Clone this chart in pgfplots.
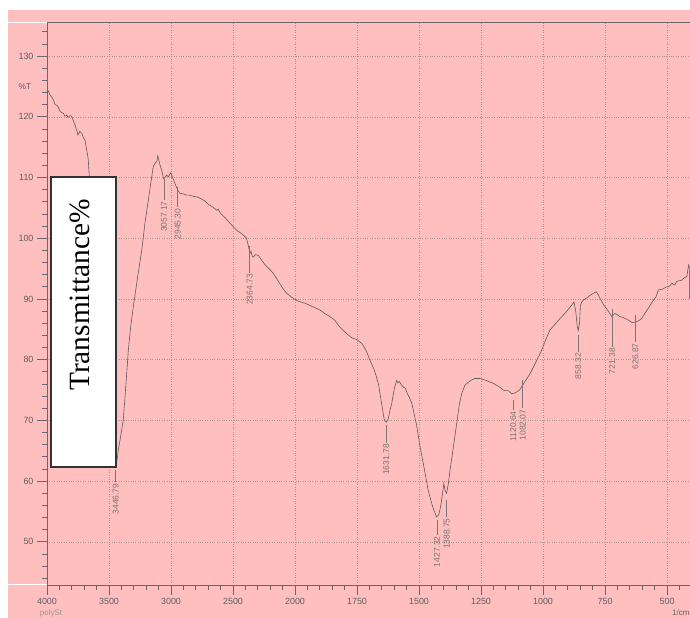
\documentclass[border=0pt]{standalone}
\usepackage{pgfplots}
\pgfplotsset{compat=1.18}
\usepackage{fontspec}
\setmainfont{Liberation Sans}
\newfontfamily\seriffont{Liberation Serif}
\definecolor{pinkbg}{RGB}{255,191,191}
\definecolor{gridc}{RGB}{175,145,145}
\definecolor{axc}{RGB}{105,105,105}
\definecolor{curvec}{RGB}{95,90,90}
\definecolor{annc}{RGB}{125,115,115}
\definecolor{lblc}{RGB}{95,95,95}
\pgfplotstableread{
w v
4000 124.1
3990 124.3
3975 123.6
3960 123.2
3949 122.8
3935 122.0
3920 121.9
3909 121.6
3895 120.9
3880 120.7
3869 120.6
3855 120.1
3840 120.3
3831 119.9
3815 120.2
3801 120.1
3790 119.5
3774 118.6
3760 117.8
3750 117.0
3735 117.6
3720 117.3
3705 116.5
3694 116.2
3685 115.1
3675 114.0
3667 112.9
3659 110.1
3640 104
3600 94
3560 83
3520 72
3485 65
3460 62.6
3447 62.3
3435 63.5
3425 65.1
3405 67.5
3385 70.0
3365 75.5
3344 81.6
3325 85.5
3304 88.7
3270 93.5
3236 98.0
3210 102.5
3183 106.3
3160 109.5
3143 111.8
3128 112.4
3115 112.6
3106 113.6
3100 113.0
3088 112.0
3075 111.2
3060 109.8
3048 110.0
3035 110.4
3022 110.1
3010 110.5
3002 110.8
2985 109.9
2968 109.0
2945 107.9
2927 107.4
2900 107.3
2873 107.1
2850 107.1
2820 106.9
2790 106.8
2766 106.6
2730 106.2
2700 105.6
2660 105.1
2631 104.6
2620 104.8
2600 104.1
2560 103.3
2530 102.6
2498 101.9
2470 101.3
2440 100.9
2410 100.4
2390 100.0
2375 98.6
2363 97.5
2355 97.9
2345 97.0
2336 96.9
2320 97.3
2296 97.2
2270 96.4
2240 95.6
2200 94.8
2175 94.2
2140 93.1
2100 91.8
2070 91.0
2040 90.5
2014 90.1
1990 89.7
1960 89.3
1926 88.7
1900 88.2
1880 87.6
1859 87.1
1840 86.5
1820 85.4
1800 84.6
1792 84.3
1770 83.6
1750 83.3
1731 82.7
1720 82.0
1710 81.2
1698 79.9
1680 78.3
1664 76.1
1650 72.6
1640 70.1
1632 69.7
1624 70.3
1618 71.5
1610 72.8
1600 75.2
1590 76.6
1585 76.2
1579 76.4
1570 75.8
1563 75.5
1555 75.3
1547 74.4
1540 73.9
1529 72.8
1510 69.3
1496 65.7
1480 62.3
1463 58.5
1450 56.5
1440 55.2
1429 54.1
1420 54.5
1413 55.8
1405 58.0
1400 59.6
1395 58.5
1389 58.0
1382 59.5
1375 61.8
1360 66.0
1348 69.5
1338 72.5
1328 74.4
1315 75.8
1301 76.3
1290 76.6
1275 76.9
1254 76.9
1230 76.6
1200 76.1
1175 75.5
1160 75.0
1153 74.9
1140 74.9
1126 74.4
1115 74.5
1106 74.7
1095 75.0
1082 75.8
1070 76.6
1052 77.7
1030 79.5
1005 81.6
990 83.2
972 84.9
950 85.9
931 86.8
910 87.7
890 88.7
875 89.5
868 88.0
862 85.5
858 84.8
853 86.0
849 88.9
844 89.5
835 89.9
822 90.2
810 90.6
798 90.9
786 91.2
780 90.9
770 90.1
755 89.0
740 88.2
723 87.1
716 87.4
710 87.6
700 87.4
690 87.1
680 87.0
669 86.8
655 86.5
640 86.1
629 86.2
615 86.4
602 86.8
590 87.6
575 88.5
555 89.8
545 90.3
535 91.5
520 91.6
501 92.0
490 92.1
480 92.6
470 92.3
460 92.9
450 93.0
440 93.1
430 93.5
420 93.7
413 95.6
408 94.9
400 94.4
}\spectrum
\begin{document}
\begin{tikzpicture}[x=1bp,y=1bp]
\clip (0,0) rectangle (690,618);
\fill[white] (0,0) rectangle (690,618);
\fill[pinkbg] (8,0) rectangle (690,608);
\draw[white, line width=1bp] (8,595.3) -- (47,595.3);
\draw[white, line width=1bp] (8,33) -- (47,33);
\begin{axis}[
  at={(47bp,33bp)}, anchor=south west,
  scale only axis, width=644.8bp, height=562.3bp,
  x coord trafo/.code={\pgfmathparse{#1<2000 ? 4+(2000-#1)/250 : (4000-#1)/500}},
  xmin=4000, xmax=400, ymin=42.9, ymax=135.5,
  xtick={4000,3500,3000,2500,2000,1750,1500,1250,1000,750,500,400},
  xticklabels={4000,3500,3000,2500,2000,1750,1500,1250,1000,750,500,{}},
  minor xtick={3900,3800,3700,3600,3400,3300,3200,3100,2900,2800,2700,2600,2400,2300,2200,2100,1950,1900,1850,1800,1700,1650,1600,1550,1450,1400,1350,1300,1200,1150,1100,1050,950,900,850,800,700,650,600,550,450},
  ytick={50,60,70,80,90,100,110,120,130},
  minor ytick={44,46,48,52,54,56,58,62,64,66,68,72,74,76,78,82,84,86,88,92,94,96,98,102,104,106,108,112,114,116,118,122,124,126,128,132,134},
  tick pos=left, tick align=outside,
  major tick length=10bp, minor tick length=5bp,
  every tick/.style={axc, line width=0.8bp},
  axis line style={axc, line width=0.9bp},
  grid=major, major grid style={gridc, dotted, line width=0.6bp},
  tick label style={font=\fontsize{9}{10}\selectfont, text=lblc},
  /pgf/number format/assume math mode=true,
  clip=true,
]
\addplot[curvec, line width=0.6bp] table[x=w,y=v] {\spectrum};
\begin{scope}[annc, line width=0.6bp, every node/.style={rotate=90, anchor=east, inner sep=1bp, font=\fontsize{8.5}{9}\selectfont, text=annc}]
\draw (axis cs:3446.79,61.8) -- (axis cs:3446.79,59.8) node {3446.79};
\draw (axis cs:3057.17,109.7) -- (axis cs:3057.17,106.3) node {3057.17};
\draw (axis cs:2945.30,108.4) -- (axis cs:2945.30,105.1) node {2945.30};
\draw (axis cs:2364.73,98.8) -- (axis cs:2364.73,94.3) node {2364.73};
\draw (axis cs:1631.78,69.2) -- (axis cs:1631.78,66.3) node {1631.78};
\draw (axis cs:1427.32,53.6) -- (axis cs:1427.32,51.1) node {1427.32};
\draw (axis cs:1388.75,56.9) -- (axis cs:1388.75,54.1) node {1388.75};
\draw (axis cs:1120.64,73.3) -- (axis cs:1120.64,71.7) node {1120.64};
\draw (axis cs:1082.07,76.6) -- (axis cs:1082.07,72.0) node {1082.07};
\draw (axis cs:858.32,84.0) -- (axis cs:858.32,81.3) node {858.32};
\draw (axis cs:721.38,88.3) -- (axis cs:721.38,82.1) node {721.38};
\draw (axis cs:626.87,87.3) -- (axis cs:626.87,82.9) node {626.87};
\draw (axis cs:410,94.8) -- (axis cs:410,90.0);
\end{scope}
\end{axis}
\draw[black!80, line width=1.1bp, fill=white] (51,441) rectangle (116,151);
\node[rotate=90, inner sep=0pt, font=\seriffont\fontsize{29.5}{30}\selectfont] at (80,323) {Transmittance\%};
\node[font=\fontsize{8.5}{9}\selectfont, text=lblc] at (25,531) {\%T};
\node[anchor=base, inner sep=0pt, font=\fontsize{8}{9}\selectfont, text=black!40] at (51,2.6) {polySt};
\node[anchor=base west, inner sep=0pt, font=\fontsize{8}{9}\selectfont, text=lblc] at (672,2.6) {1/cm};
\end{tikzpicture}
\end{document}
